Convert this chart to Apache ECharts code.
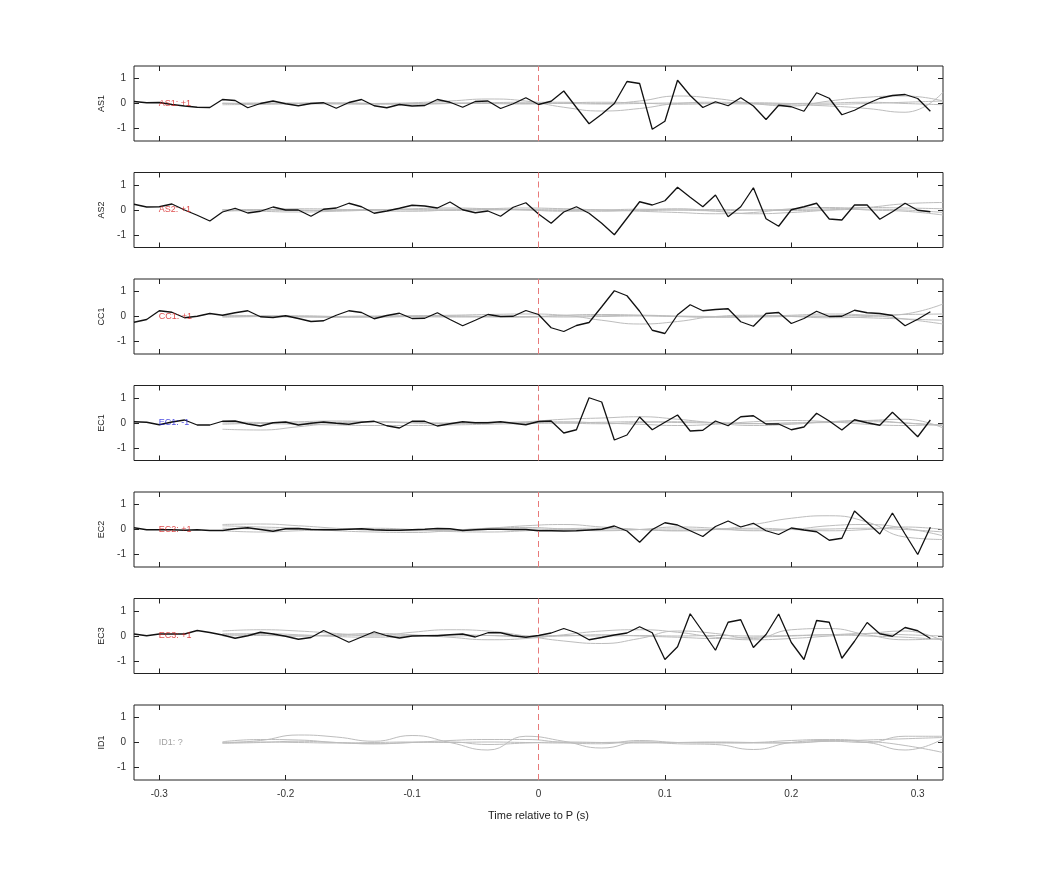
<!DOCTYPE html>
<html>
<head>
<meta charset="utf-8">
<script src="https://cdn.jsdelivr.net/npm/echarts@6/dist/echarts.min.js"></script>
<style>
  html, body { margin: 0; padding: 0; background: #fff; }
  #chart { width: 1042px; height: 875px; }
</style>
</head>
<body>
<div id="chart"></div>
<script>
// stations and their polarity labels
const stations = ['AS1', 'AS2', 'CC1', 'EC1', 'EC2', 'EC3', 'ID1'];
const polarity = ['+1', '+1', '+1', '-1', '+1', '+1', '?'];

// black trace samples, -0.32 .. 0.31 step 0.01
const times = [];
for (let i = 0; i < 64; i += 1) times.push(+(-0.32 + i * 0.01).toFixed(2));

const traceAS1 = [0.08, 0.03, 0.04, -0.04, -0.1, -0.15, -0.16, 0.16, 0.12, -0.17, 0, 0.1, -0.01, -0.09, 0, 0.03,
  -0.19, 0.04, 0.16, -0.09, -0.17, -0.04, -0.1, -0.08, 0.16, 0.05, -0.15, 0.08, 0.1, -0.2, -0.01, 0.23,
  -0.04, 0.09, 0.5, -0.16, -0.81, -0.43, 0, 0.88, 0.8, -1.03, -0.71, 0.93, 0.32, -0.16, 0.07, -0.09,
  0.23, -0.1, -0.64, -0.07, -0.13, -0.31, 0.43, 0.21, -0.45, -0.27, -0.01, 0.21, 0.32, 0.36, 0.2, -0.31];
const traceAS2 = [0.23, 0.12, 0.13, 0.24, 0, -0.21, -0.44, -0.08, 0.07, -0.12, -0.05, 0.12, 0, 0, -0.25, 0.03,
  0.08, 0.27, 0.13, -0.13, -0.04, 0.07, 0.19, 0.16, 0.08, 0.32, 0.01, -0.11, -0.04, -0.25, 0.11, 0.29,
  -0.16, -0.53, -0.08, 0.13, -0.13, -0.53, -0.99, -0.33, 0.33, 0.2, 0.37, 0.91, 0.51, 0.13, 0.6, -0.27,
  0.13, 0.89, -0.35, -0.65, 0.01, 0.13, 0.27, -0.36, -0.4, 0.2, 0.2, -0.37, -0.07, 0.27, -0.01, -0.07];
const traceCC1 = [-0.23, -0.12, 0.23, 0.17, -0.05, 0.01, 0.12, 0.05, 0.15, 0.23, -0.01, -0.04, 0.03, -0.08, -0.2, -0.17,
  0.05, 0.23, 0.16, -0.09, 0.04, 0.13, -0.08, -0.07, 0.15, -0.12, -0.37, -0.15, 0.08, 0, 0.01, 0.24,
  0.08, -0.45, -0.6, -0.36, -0.24, 0.39, 1.03, 0.83, 0.21, -0.55, -0.68, 0.07, 0.47, 0.23, 0.28, 0.31,
  -0.21, -0.39, 0.12, 0.16, -0.28, -0.08, 0.21, 0, 0.01, 0.25, 0.15, 0.12, 0.04, -0.37, -0.11, 0.19];
const traceEC1 = [0.05, 0.03, -0.07, 0.04, 0.12, -0.08, -0.08, 0.07, 0.08, -0.04, -0.12, 0.01, 0.04, -0.08, -0.01, 0.04,
  -0.01, -0.05, 0.03, 0.07, -0.11, -0.2, 0.07, 0.07, -0.12, -0.03, 0.05, 0.01, 0.01, 0.05, -0.01, -0.07,
  0.06, 0.08, -0.4, -0.27, 1.01, 0.84, -0.68, -0.48, 0.24, -0.27, 0.03, 0.32, -0.32, -0.29, 0.08, -0.11,
  0.25, 0.29, -0.04, -0.04, -0.27, -0.16, 0.39, 0.08, -0.28, 0.13, 0.01, -0.09, 0.43, -0.05, -0.55, 0.12];
const traceEC2 = [0.07, -0.01, -0.01, -0.01, -0.03, -0.01, -0.04, -0.04, 0.03, 0.07, 0, -0.07, 0.03, 0.04, 0, -0.01,
  -0.01, 0.01, 0.03, -0.01, -0.03, -0.03, -0.01, 0.01, 0.04, 0.03, -0.04, -0.01, 0.01, 0.01, 0, 0,
  -0.05, -0.05, -0.06, -0.05, -0.02, 0.01, 0.14, -0.06, -0.51, 0, 0.27, 0.18, -0.05, -0.28, 0.12, 0.34,
  0.1, 0.25, -0.05, -0.2, 0.06, -0.02, -0.09, -0.43, -0.35, 0.74, 0.28, -0.18, 0.66, -0.18, -1.0, 0.09];
const traceEC3 = [0.08, 0.01, 0.08, 0.08, 0.08, 0.22, 0.14, 0.04, -0.09, 0.01, 0.15, 0.08, -0.01, -0.13, -0.06, 0.22,
  -0.01, -0.25, -0.04, 0.17, 0.01, -0.08, 0, 0.01, 0.01, 0.05, 0.08, -0.04, 0.13, 0.13, 0.01, -0.05,
  0.02, 0.12, 0.3, 0.13, -0.15, -0.06, 0.04, 0.12, 0.37, 0.13, -0.94, -0.43, 0.89, 0.17, -0.57, 0.55,
  0.65, -0.46, 0.06, 0.88, -0.26, -0.94, 0.62, 0.55, -0.89, -0.21, 0.54, 0.09, -0.01, 0.34, 0.21, -0.1];
const traces = [traceAS1, traceAS2, traceCC1, traceEC1, traceEC2, traceEC3, null];

// grey (synthetic / comparison) traces, sampled coarser: -0.25 .. 0.32 step 0.03
const greyTimes = [-0.25, -0.22, -0.19, -0.16, -0.13, -0.10, -0.07, -0.04, -0.01, 0.02,
  0.05, 0.08, 0.11, 0.14, 0.17, 0.20, 0.23, 0.26, 0.29, 0.32];
const greyAS1 = [
  [0, 0.02, 0, -0.02, 0, 0.03, 0.1, 0.18, 0.1, -0.15, -0.3, -0.2, 0, 0.05, 0, -0.05, -0.1, -0.2, -0.35, 0.45],
  [-0.05, -0.03, 0, 0.02, 0, -0.02, 0, 0.03, 0.05, 0.05, 0, 0.1, 0.3, 0.2, 0, -0.1, 0.1, 0.25, 0.3, 0.1],
  [0, 0, 0.02, 0, -0.03, 0, 0.02, 0, -0.02, 0.02, 0.05, 0.02, -0.03, 0, 0.03, 0, -0.03, 0, 0.05, 0.1],
  [0.02, -0.02, 0, 0.02, 0, -0.02, 0, 0.01, 0, 0, -0.02, 0, 0.02, 0, -0.02, 0, 0.02, 0.05, 0, -0.05]
];
const greyAS2 = [
  [0, -0.05, -0.08, -0.05, 0, 0.05, 0.08, 0.05, 0, -0.05, -0.05, 0, 0.05, -0.05, -0.15, -0.1, 0, 0.1, 0.25, 0.3],
  [-0.05, 0, 0.05, 0.03, -0.03, -0.05, 0, 0.05, 0.08, 0.05, 0, -0.05, -0.1, -0.15, -0.1, 0.05, 0.1, 0, -0.05, -0.2],
  [0, 0.02, 0, -0.02, 0, 0.02, 0.03, 0.02, 0, -0.02, 0, 0.03, 0, -0.03, 0, 0.02, 0.05, 0.1, 0.08, 0.05],
  [0.02, 0, -0.02, 0, 0.02, 0, -0.02, 0, 0.02, 0.03, 0, -0.02, 0, 0.02, 0, -0.02, 0, 0.03, 0, -0.1]
];
const greyCC1 = [
  [0.05, 0.03, 0, -0.03, 0, 0.03, 0.05, 0.08, 0.1, 0.05, -0.15, -0.3, -0.2, 0, 0.05, 0, -0.05, 0, 0.1, 0.5],
  [-0.03, 0, 0.03, 0, -0.03, 0, 0.03, 0, -0.03, 0.05, 0.08, 0.05, 0, -0.03, 0, 0.05, 0.1, 0.05, -0.1, -0.3],
  [0, 0.02, 0, -0.02, 0, 0.02, 0, -0.02, 0, 0.02, 0.03, 0.05, 0.02, 0, -0.02, 0, 0.02, 0.05, 0.08, 0.1],
  [0.02, 0, -0.02, 0, 0.02, 0, -0.02, 0, 0, -0.02, 0, 0.02, 0, -0.02, 0, 0.02, 0, -0.05, -0.1, -0.15]
];
const greyEC1 = [
  [-0.25, -0.28, -0.15, 0, 0.05, 0.02, -0.02, 0, 0.05, 0.15, 0.2, 0.25, 0.15, 0, -0.1, -0.05, 0.05, 0.1, 0, -0.1],
  [-0.05, 0, 0.05, 0.08, 0.05, 0, -0.03, 0, 0.03, 0.05, 0, -0.05, -0.1, -0.05, 0.05, 0.1, 0.05, -0.05, -0.1, -0.05],
  [0.05, 0.02, 0, 0.03, 0.05, 0.02, 0, 0.03, 0.02, 0, -0.03, 0.02, 0.05, 0.02, -0.02, 0, 0.05, 0.1, 0.15, -0.2],
  [0, -0.02, -0.05, -0.08, -0.1, -0.1, -0.08, -0.05, -0.02, 0, 0.03, 0.05, 0.02, 0, -0.03, 0, 0.02, 0.05, 0, -0.1]
];
const greyEC2 = [
  [0.2, 0.22, 0.15, 0.05, -0.03, -0.05, -0.02, 0.05, 0.15, 0.2, 0.1, 0, -0.05, 0, 0.2, 0.45, 0.55, 0.3, -0.3, -0.4],
  [0.15, 0.1, 0.05, -0.05, -0.1, -0.12, -0.05, 0.05, 0.08, 0.02, -0.05, 0, 0.1, 0.05, -0.05, 0, 0.15, 0.2, 0.05, -0.25],
  [-0.05, -0.1, -0.05, 0, 0.05, 0, -0.08, -0.1, -0.05, 0.03, 0.05, 0, -0.05, 0, 0.05, 0, -0.05, 0, 0.1, 0],
  [0.05, 0.02, 0, 0.02, 0, -0.03, -0.02, 0, 0.02, 0, -0.02, 0, 0.02, 0, -0.02, 0, 0.02, 0.05, 0, -0.1]
];
const greyEC3 = [
  [0.2, 0.25, 0.2, 0.1, 0, 0.15, 0.25, 0.2, 0, -0.2, -0.3, -0.1, 0.2, 0.1, -0.1, 0.25, 0.3, 0.05, -0.15, -0.1],
  [0.1, 0.05, 0, 0.05, 0.1, 0.05, -0.05, -0.15, -0.1, 0.05, 0.2, 0.25, 0.15, -0.05, -0.15, -0.1, 0, 0.1, 0.2, -0.2],
  [0.05, 0.1, 0.05, -0.02, -0.05, 0, 0.05, 0.02, -0.03, 0, 0.05, 0, -0.05, -0.1, -0.05, 0, 0.05, 0, -0.05, -0.15],
  [0, 0.02, 0, 0.02, 0.05, 0.02, 0, 0.02, 0, 0.02, 0, 0.02, 0, 0.02, 0, 0.02, 0.05, 0.1, 0.05, 0]
];
const greyID1 = [
  [-0.02, 0.08, 0.3, 0.22, 0.05, 0.28, 0, -0.3, 0.25, 0.05, -0.22, 0.02, -0.05, -0.08, -0.28, 0, 0.08, 0, -0.3, 0.15],
  [0.03, 0.12, 0.1, 0, -0.05, 0, 0.08, 0.12, 0.12, 0, -0.05, 0.08, 0, -0.02, 0, 0.08, 0.12, 0.05, -0.12, -0.4],
  [-0.03, 0, 0.05, 0, -0.05, 0, 0.02, -0.08, -0.02, 0.02, 0, -0.02, 0, 0.02, 0, -0.02, 0.05, 0, 0.25, 0.25],
  [0, 0.02, 0, -0.02, 0, 0.02, 0, 0.02, 0, -0.02, 0, 0.02, 0, 0, -0.02, 0, 0.05, 0.1, 0.15, 0.2]
];
const greys = [greyAS1, greyAS2, greyCC1, greyEC1, greyEC2, greyEC3, greyID1];

const xTicks = [-0.3, -0.2, -0.1, 0, 0.1, 0.2, 0.3];

const polColor = p => (p === '+1' ? '#d62020' : p === '-1' ? '#1a1ad8' : '#8a8a8a');

const chart = echarts.init(document.getElementById('chart'));
const grids = [];
const xAxes = [];
const yAxes = [];
const series = [];
const panelTop = 66;
const panelStep = 106.5;
const panelH = 75;
const axisLine = { show: false, onZero: false };
const tick = { show: true, inside: true, length: 5, lineStyle: { color: '#222' } };

stations.forEach((name, i) => {
  grids.push({
    left: 134, right: 99, top: panelTop + i * panelStep, height: panelH,
    show: true, borderColor: '#222', borderWidth: 1, backgroundColor: '#fff'
  });
  const last = i === stations.length - 1;
  // bottom x axis
  xAxes.push({
    type: 'value', gridIndex: i, min: -0.32, max: 0.32, position: 'bottom',
    axisLine, splitLine: { show: false },
    axisTick: { ...tick, customValues: xTicks },
    axisLabel: { show: last, customValues: xTicks, color: '#333', fontSize: 10, margin: 9,
      fontFamily: 'Liberation Sans', formatter: v => String(+v.toFixed(1)) },
    name: last ? 'Time relative to P (s)' : '', nameLocation: 'middle', nameGap: 30,
    nameTextStyle: { color: '#222', fontSize: 11, fontFamily: 'Liberation Sans' }
  });
  // top x axis (ticks only)
  xAxes.push({
    type: 'value', gridIndex: i, min: -0.32, max: 0.32, position: 'top',
    axisLine, splitLine: { show: false },
    axisTick: { ...tick, customValues: xTicks }, axisLabel: { show: false }
  });
  yAxes.push({
    type: 'value', gridIndex: i, min: -1.5, max: 1.5, position: 'left',
    axisLine, splitLine: { show: false },
    axisTick: { ...tick, customValues: [-1, 0, 1] },
    axisLabel: { customValues: [-1, 0, 1], color: '#333', fontSize: 10, margin: 8, fontFamily: 'Liberation Sans' },
    name, nameLocation: 'middle', nameGap: 26, nameRotate: 90,
    nameTextStyle: { color: '#222', fontSize: 9, fontFamily: 'Liberation Sans' }
  });
  yAxes.push({
    type: 'value', gridIndex: i, min: -1.5, max: 1.5, position: 'right',
    axisLine, splitLine: { show: false },
    axisTick: { ...tick, customValues: [-1, 0, 1] }, axisLabel: { show: false }
  });

  // grey traces
  greys[i].forEach((g, k) => {
    series.push({
      type: 'line', xAxisIndex: 2 * i, yAxisIndex: 2 * i, smooth: 0.5, symbol: 'none',
      data: greyTimes.map((t, j) => [t, g[j]]),
      lineStyle: { color: '#bdbdbd', width: 1 }, silent: true, z: 2,
      markLine: k === 0 ? {
        symbol: 'none', silent: true, label: { show: false },
        lineStyle: { color: '#e87a7a', type: [6, 4], width: 1 },
        data: [{ xAxis: 0 }]
      } : undefined
    });
  });

  // black observed trace
  if (traces[i]) {
    series.push({
      type: 'line', xAxisIndex: 2 * i, yAxisIndex: 2 * i, symbol: 'none',
      data: times.map((t, j) => [t, traces[i][j]]),
      lineStyle: { color: '#111', width: 1.3 }, z: 4
    });
  }

  // polarity label
  series.push({
    type: 'scatter', xAxisIndex: 2 * i, yAxisIndex: 2 * i, symbolSize: 1, silent: true,
    itemStyle: { color: 'rgba(0,0,0,0)' }, z: 5,
    data: [[-0.3, 0]],
    label: { show: true, position: 'right', distance: -1, formatter: `${name}: ${polarity[i]}`,
      color: polColor(polarity[i]), fontSize: 9, fontFamily: 'Liberation Sans' }
  });
});

chart.setOption({
  animation: false,
  backgroundColor: '#fff',
  grid: grids,
  xAxis: xAxes,
  yAxis: yAxes,
  series
});
</script>
</body>
</html>
